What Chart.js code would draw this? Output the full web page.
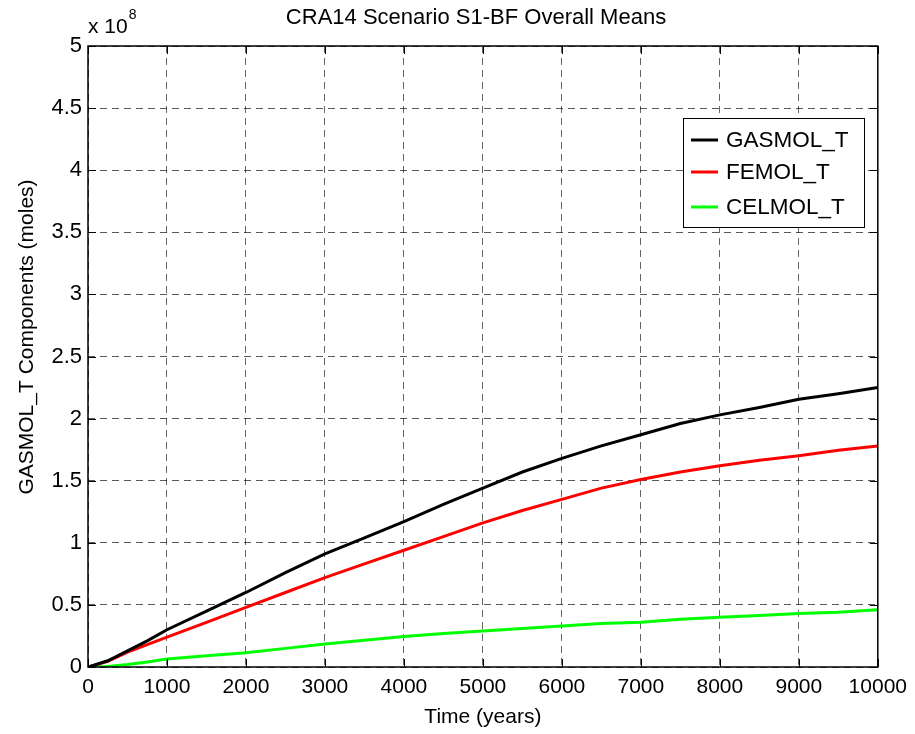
<!DOCTYPE html>
<html>
<head>
<meta charset="utf-8">
<script src="https://cdn.jsdelivr.net/npm/chart.js@4.4.1/dist/chart.umd.min.js"></script>
<style>
  html, body { margin: 0; padding: 0; background: #fff; }
  #wrap { width: 915px; height: 734px; }
</style>
</head>
<body>
<div id="wrap"><canvas id="chart" width="915" height="734"></canvas></div>
<script>
// Time axis (years) and series values in units of 1e8 moles
const years = [0, 250, 500, 750, 1000, 1500, 2000, 2500, 3000, 3500, 4000, 4500, 5000,
               5500, 6000, 6500, 7000, 7500, 8000, 8500, 9000, 9500, 10000];
const gasmol = [0, 0.05, 0.13, 0.21, 0.30, 0.45, 0.60, 0.76, 0.91, 1.04, 1.17, 1.31, 1.44,
                1.57, 1.68, 1.78, 1.87, 1.96, 2.03, 2.09, 2.155, 2.20, 2.25];
const femol = [0, 0.045, 0.12, 0.18, 0.24, 0.36, 0.48, 0.60, 0.72, 0.83, 0.94, 1.05, 1.16,
               1.26, 1.35, 1.44, 1.51, 1.57, 1.62, 1.665, 1.70, 1.745, 1.78];
const celmol = [0, 0.005, 0.02, 0.04, 0.065, 0.09, 0.115, 0.15, 0.185, 0.215, 0.245, 0.27, 0.29,
                0.31, 0.33, 0.35, 0.36, 0.385, 0.40, 0.415, 0.43, 0.44, 0.46];

const seriesNames = ['GASMOL_T', 'FEMOL_T', 'CELMOL_T'];
const seriesColors = ['#000000', '#ff0000', '#00ff00'];
const xTicks = [0, 1000, 2000, 3000, 4000, 5000, 6000, 7000, 8000, 9000, 10000];
const yTicks = [0, 0.5, 1, 1.5, 2, 2.5, 3, 3.5, 4, 4.5, 5];

const FONT = 'Liberation Sans, Arial, Helvetica, sans-serif';

function toPoints(vals) {
    return years.map((x, i) => ({ x: x, y: vals[i] }));
}

// MATLAB-like decorations: box, inward ticks, title, labels, legend
const matlabDecor = {
    id: 'matlabDecor',
    afterDraw(chart) {
        const ctx = chart.ctx;
        const a = chart.chartArea;
        const xs = chart.scales.x;
        const ys = chart.scales.y;
        ctx.save();

        // axis box
        ctx.strokeStyle = '#000';
        ctx.lineWidth = 1.5;
        ctx.setLineDash([]);
        ctx.strokeRect(a.left, a.top, a.right - a.left, a.bottom - a.top);

        // inward tick marks
        const t = 8;
        ctx.lineWidth = 1;
        ctx.beginPath();
        xTicks.forEach(v => {
            const px = Math.round(xs.getPixelForValue(v)) + 0.5;
            ctx.moveTo(px, a.bottom); ctx.lineTo(px, a.bottom - t);
            ctx.moveTo(px, a.top); ctx.lineTo(px, a.top + t);
        });
        yTicks.forEach(v => {
            const py = Math.round(ys.getPixelForValue(v)) + 0.5;
            ctx.moveTo(a.left, py); ctx.lineTo(a.left + t, py);
            ctx.moveTo(a.right, py); ctx.lineTo(a.right - t, py);
        });
        ctx.stroke();

        ctx.fillStyle = '#000';

        // title
        ctx.font = '22px ' + FONT;
        ctx.textAlign = 'center';
        ctx.textBaseline = 'middle';
        ctx.fillText('CRA14 Scenario S1-BF Overall Means', 476, 18);

        // exponent label
        ctx.textAlign = 'left';
        ctx.textBaseline = 'alphabetic';
        ctx.font = '21px ' + FONT;
        ctx.fillText('x 10', 88, 33);
        const w = ctx.measureText('x 10').width;
        ctx.font = '14px ' + FONT;
        ctx.fillText('8', 88 + w + 1, 19);

        // axis titles
        ctx.font = '21px ' + FONT;
        ctx.textAlign = 'center';
        ctx.textBaseline = 'middle';
        ctx.fillText('Time (years)', (a.left + a.right) / 2, 717);
        ctx.save();
        ctx.translate(27, 337);
        ctx.rotate(-Math.PI / 2);
        ctx.fillText('GASMOL_T Components (moles)', 0, 0);
        ctx.restore();

        // legend
        const lx = 683, ly = 118, lw = 181, lh = 109;
        ctx.fillStyle = '#fff';
        ctx.fillRect(lx, ly, lw, lh);
        ctx.strokeStyle = '#000';
        ctx.lineWidth = 1;
        ctx.strokeRect(lx + 0.5, ly + 0.5, lw, lh);
        const rows = [140, 172, 207];
        ctx.font = '22.5px ' + FONT;
        ctx.textAlign = 'left';
        ctx.textBaseline = 'middle';
        seriesNames.forEach((name, i) => {
            ctx.strokeStyle = seriesColors[i];
            ctx.lineWidth = 3;
            ctx.beginPath();
            ctx.moveTo(lx + 8, rows[i]);
            ctx.lineTo(lx + 35, rows[i]);
            ctx.stroke();
            ctx.fillStyle = '#000';
            ctx.fillText(name, lx + 43, rows[i] + 1);
        });

        ctx.restore();
    }
};

const chart = new Chart(document.getElementById('chart'), {
    type: 'line',
    data: {
        datasets: [
            { label: seriesNames[0], data: toPoints(gasmol), borderColor: seriesColors[0] },
            { label: seriesNames[1], data: toPoints(femol), borderColor: seriesColors[1] },
            { label: seriesNames[2], data: toPoints(celmol), borderColor: seriesColors[2] }
        ].map(d => Object.assign(d, {
            borderWidth: 3,
            pointRadius: 0,
            tension: 0,
            fill: false
        }))
    },
    options: {
        responsive: false,
        animation: false,
        layout: { padding: { top: 46, right: 37, left: 0, bottom: 0 } },
        plugins: {
            legend: { display: false },
            title: { display: false },
            tooltip: { enabled: false }
        },
        scales: {
            x: {
                type: 'linear',
                min: 0,
                max: 10000,
                afterFit: s => { s.height = 67; },
                afterBuildTicks: s => { s.ticks = xTicks.map(v => ({ value: v })); },
                grid: { color: 'rgba(0,0,0,0.6)', lineWidth: 1, drawTicks: false },
                border: { display: false, dash: [7, 5] },
                ticks: {
                    padding: 8,
                    maxRotation: 0,
                    color: '#000',
                    font: { family: FONT, size: 21 },
                    callback: v => String(v)
                }
            },
            y: {
                type: 'linear',
                min: 0,
                max: 5,
                afterFit: s => { s.width = 88; },
                afterBuildTicks: s => { s.ticks = yTicks.map(v => ({ value: v })); },
                grid: { color: 'rgba(0,0,0,0.65)', lineWidth: 1, drawTicks: false },
                border: { display: false, dash: [7, 5] },
                ticks: {
                    padding: 6,
                    color: '#000',
                    font: { family: FONT, size: 22 },
                    callback: v => String(v)
                }
            }
        }
    },
    plugins: [matlabDecor]
});
</script>
</body>
</html>
